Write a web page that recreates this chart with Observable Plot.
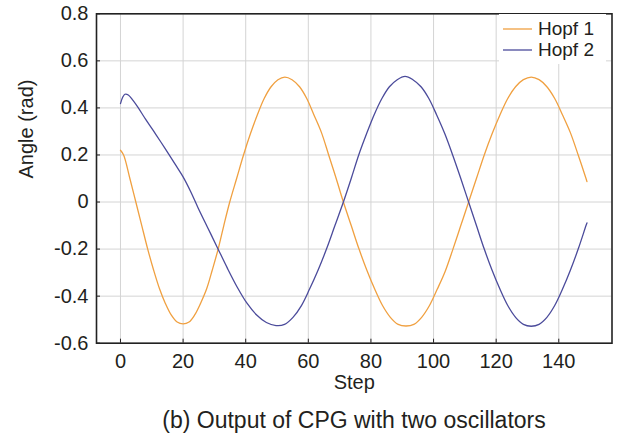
<!DOCTYPE html>
<html>
<head>
<meta charset="utf-8">
<script src="https://cdn.jsdelivr.net/npm/d3@7"></script>
<script src="https://cdn.jsdelivr.net/npm/@observablehq/plot@0.6"></script>
<style>
  html, body { margin: 0; padding: 0; background: #fff; }
  #wrap { position: relative; width: 622px; height: 441px; font-family: "Liberation Sans", Arial, sans-serif; color: #231f20; }
  #legend { position: absolute; left: 499px; top: 14px; width: 107px; height: 50px; background: #fff; }
  .row { position: absolute; left: 0; height: 18px; line-height: 18px; display: flex; align-items: center; font-size: 19px; }
  .row svg { margin-left: 4px; margin-right: 6px; }
  #caption { position: absolute; left: 96px; width: 516px; top: 402px; height: 36px; line-height: 36px; text-align: center; font-size: 23px; }
</style>
</head>
<body>
<div id="wrap">
  <div id="chart"></div>
  <div id="legend"></div>
  <div id="caption"></div>
</div>
<script>
const seriesNames = ["Hopf 1", "Hopf 2"];
const seriesColors = ["#f0a040", "#4b4b9b"];
const xLabel = "Step";
const yLabel = "Angle (rad)";
const captionText = "(b) Output of CPG with two oscillators";
const xTicks = [0, 20, 40, 60, 80, 100, 120, 140];
const yTicks = [-0.6, -0.4, -0.2, 0, 0.2, 0.4, 0.6, 0.8];

const hopf1Steps = [0,1,3,4.9,6.8,8.7,10.6,12.5,14.3,16.2,18.1,20,21.9,23.7,25.6,27.5,29.3,31.2,33,34.9,37.1,39.3,41.5,43.7,45.9,48.1,50.3,52.5,54.8,57.2,59.5,61.8,64.2,66.5,68.9,71.2,73.7,76.2,78.7,81.2,83.7,86.2,88.7,91.2,93.7,96.2,98.7,101.2,103.7,106.2,108.7,111.2,113.7,116.2,118.7,121.2,123.7,126.2,128.7,131.2,133.7,136.2,138.7,141.2,143.7,146.2,148.7,149];
const hopf1 = [0.22,0.20,0.10,0,-0.10,-0.20,-0.29,-0.37,-0.43,-0.48,-0.51,-0.518,-0.51,-0.48,-0.43,-0.37,-0.29,-0.20,-0.10,0,0.10,0.20,0.29,0.37,0.44,0.49,0.52,0.531,0.52,0.49,0.44,0.37,0.295,0.20,0.10,0,-0.10,-0.20,-0.29,-0.37,-0.44,-0.49,-0.52,-0.527,-0.52,-0.49,-0.44,-0.37,-0.295,-0.20,-0.10,0,0.10,0.20,0.29,0.37,0.44,0.49,0.52,0.531,0.52,0.49,0.44,0.37,0.295,0.20,0.10,0.087];

const hopf2Steps = [0,0.7,1.4,2.5,4,5.6,8,10.5,13,15.2,17.5,20,22.4,24.8,27.9,31,34.1,37.3,40.4,43.5,46.6,49.7,52.4,55.1,57.8,60.4,63.1,65.8,68.5,71.2,73.7,76.1,78.6,81,83.5,85.9,88.4,90.9,93.4,96,98.5,101,103.6,106.1,108.7,111.2,113.7,116.2,118.7,121.2,123.7,126.2,128.7,131.2,133.7,136.2,138.7,141.2,143.7,146.2,148.7,149];
const hopf2 = [0.418,0.445,0.458,0.455,0.432,0.402,0.352,0.303,0.253,0.208,0.16,0.107,0.045,-0.025,-0.11,-0.195,-0.28,-0.362,-0.43,-0.48,-0.512,-0.525,-0.52,-0.49,-0.44,-0.37,-0.29,-0.20,-0.10,0,0.10,0.20,0.29,0.37,0.44,0.49,0.52,0.534,0.52,0.49,0.44,0.37,0.29,0.20,0.10,0,-0.10,-0.20,-0.29,-0.37,-0.44,-0.49,-0.52,-0.528,-0.52,-0.49,-0.44,-0.37,-0.29,-0.20,-0.10,-0.089];

const d1 = hopf1Steps.map((s, i) => ({step: s, value: hopf1[i]}));
const d2 = hopf2Steps.map((s, i) => ({step: s, value: hopf2[i]}));
const fmtY = d => d === 0 ? "0" : d.toFixed(1);
const ink = "#231f20";

const chart = Plot.plot({
  width: 622,
  height: 400,
  marginLeft: 96,
  marginRight: 10.5,
  marginTop: 13.3,
  marginBottom: 57.3,
  style: {fontFamily: "Liberation Sans, Arial, sans-serif", fontSize: "20px", color: ink, background: "#fff"},
  x: {domain: [-7.66, 157]},
  y: {domain: [-0.6, 0.8]},
  marks: [
    Plot.gridX(xTicks, {stroke: "#d4d4d4", strokeOpacity: 1, strokeWidth: 1}),
    Plot.gridY(yTicks, {stroke: "#d4d4d4", strokeOpacity: 1, strokeWidth: 1}),
    Plot.line(d1, {x: "step", y: "value", stroke: seriesColors[0], strokeWidth: 1.3, curve: "catmull-rom"}),
    Plot.line(d2, {x: "step", y: "value", stroke: seriesColors[1], strokeWidth: 1.3, curve: "catmull-rom"}),
    Plot.axisX(xTicks, {tickSize: -4, tickPadding: 15, stroke: ink, fill: ink, label: null, fontSize: 20}),
    Plot.axisY(yTicks, {tickSize: -4, tickPadding: 12, stroke: ink, fill: ink, label: null, tickFormat: fmtY, fontSize: 20}),
    Plot.frame({stroke: "#222", strokeWidth: 1.6}),
    Plot.text([xLabel], {text: d => d, frameAnchor: "bottom", dy: 46, fontSize: 20, fill: ink}),
    Plot.text([yLabel], {text: d => d, frameAnchor: "left", dx: -70, rotate: -90, fontSize: 20, fill: ink})
  ]
});
document.getElementById("chart").appendChild(chart);

const legend = document.getElementById("legend");
seriesNames.forEach((name, i) => {
  const row = document.createElement("div");
  row.className = "row";
  row.style.top = (6 + i * 21) + "px";
  row.innerHTML = `<svg width="29" height="4"><line x1="0" x2="29" y1="2" y2="2" stroke="${seriesColors[i]}" stroke-width="1.3"/></svg><span>${name}</span>`;
  legend.appendChild(row);
});
document.getElementById("caption").textContent = captionText;
</script>
</body>
</html>
